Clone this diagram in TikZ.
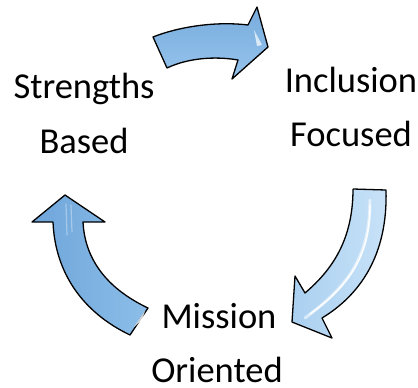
\documentclass[tikz,border=0pt]{standalone}
\usepackage{fontspec}
\setmainfont{Carlito}
\begin{document}
\begin{tikzpicture}[x=1pt,y=-1pt,
  lbl/.style={font=\fontsize{36.5}{42}\selectfont, anchor=base, inner sep=0pt, text depth=0pt},
  arrowshape/.style={draw=black, line width=1.3pt, line join=round},
  glow/.style={white, line cap=round, opacity=0.55}]
\useasboundingbox (0,0) rectangle (418,388);

% top arrow
\path[arrowshape, top color={rgb,255:red,120;green,172;blue,222}, bottom color={rgb,255:red,150;green,196;blue,236}]
  (153,37) .. controls (178,27) and (215,21) .. (248,25)
  -- (257,7) -- (268,47) -- (232,79) -- (238,60)
  .. controls (215,56) and (188,58) .. (167,68) -- cycle;
\fill[white, opacity=0.7] (254,30) -- (262,45) -- (257,46) -- cycle;

% right arrow
\path[arrowshape, left color={rgb,255:red,170;green,208;blue,240}, right color={rgb,255:red,200;green,226;blue,248}]
  (353,189) -- (386,190)
  .. controls (388,255) and (360,295) .. (322,318)
  -- (332,338) -- (292,322) -- (295,276) -- (305,293)
  .. controls (332,270) and (353,240) .. (353,189);
\draw[glow, line width=3pt] (370,200) .. controls (370,255) and (350,285) .. (305,318);
\draw[white, opacity=0.9, line width=1.5pt, line cap=round] (370,205) .. controls (370,255) and (350,285) .. (310,314);

% left arrow
\path[arrowshape, left color={rgb,255:red,110;green,165;blue,218}, right color={rgb,255:red,140;green,190;blue,232}]
  (65,195) -- (105,222) -- (83,222)
  .. controls (85,262) and (110,290) .. (148,308)
  -- (130,335)
  .. controls (82,312) and (55,272) .. (53,222)
  -- (32,222) -- cycle;
\draw[white, opacity=0.35, line width=1.2pt, line cap=round] (66,204) -- (67,235);
\draw[white, opacity=0.35, line width=1.2pt, line cap=round] (71,205) -- (72,232);
\fill[white, opacity=0.8] (145,311) -- (134,327) -- (142,320) -- cycle;

% labels
\node[lbl] (s1) at (84,98) {Strengths};
\node[lbl] (s2) at (84,153) {Based};
\node[lbl] (i1) at (351,92) {Inclusion};
\node[lbl] (i2) at (351,146) {Focused};
\node[lbl] (m1) at (219,328) {Mission};
\node[lbl] (m2) at (217,382) {Oriented};
\end{tikzpicture}
\end{document}
